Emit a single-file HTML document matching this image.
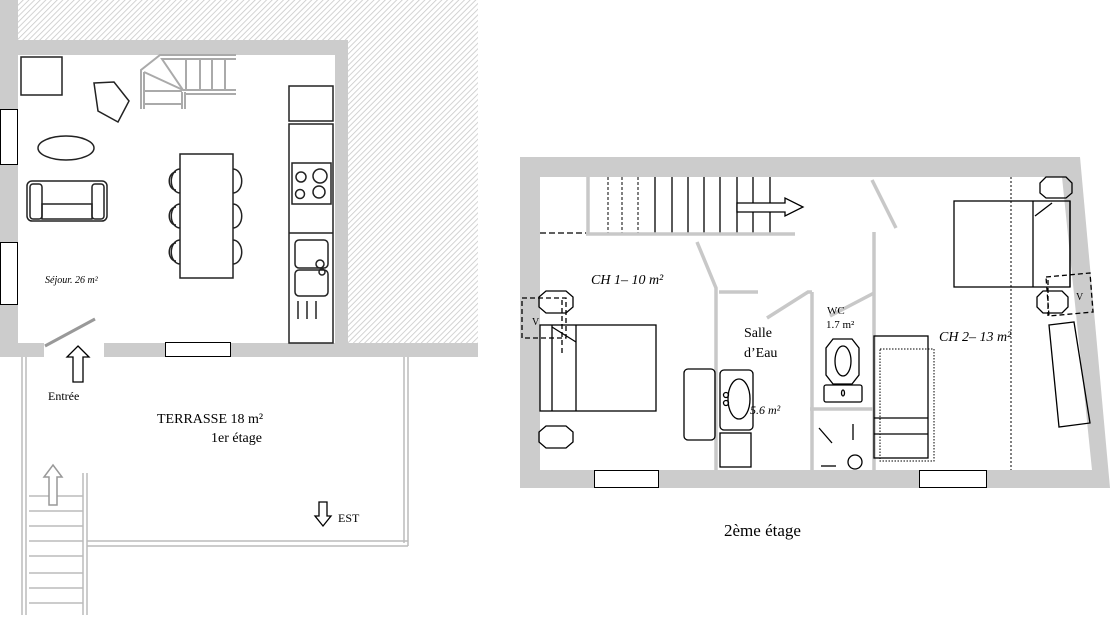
<!DOCTYPE html>
<html><head><meta charset="utf-8"><style>
html,body{margin:0;padding:0;background:#fff}
svg{display:block}
text{font-family:"Liberation Serif",serif;fill:#000}
</style></head><body>
<svg width="1110" height="618" viewBox="0 0 1110 618" xmlns="http://www.w3.org/2000/svg">
<defs>
<pattern id="h" width="4" height="4" patternUnits="userSpaceOnUse" patternTransform="rotate(45)">
<rect width="4" height="4" fill="#fff"/><line x1="0" y1="0" x2="0" y2="4" stroke="#c8c8c8" stroke-width="1.6"/>
</pattern>
</defs>
<!-- LEFT BUILDING -->
<rect x="18" y="0" width="460" height="40" fill="url(#h)"/>
<rect x="348" y="40" width="130" height="303" fill="url(#h)"/>
<rect x="0" y="0" width="18" height="357" fill="#ccc"/>
<rect x="18" y="40" width="330" height="15" fill="#ccc"/>
<rect x="335" y="40" width="13" height="303" fill="#ccc"/>
<rect x="0" y="343" width="44" height="14" fill="#ccc"/>
<rect x="104" y="343" width="374" height="14" fill="#ccc"/>
<g fill="#fff" stroke="#000" stroke-width="1">
<rect x="0.5" y="109.5" width="17" height="55"/>
<rect x="0.5" y="242.5" width="17" height="62"/>
<rect x="165.5" y="342.5" width="65" height="14"/>
</g>
<line x1="45" y1="346" x2="95" y2="319" stroke="#999" stroke-width="3"/>
<g fill="none" stroke="#222" stroke-width="1.5">
<rect x="21" y="57" width="41" height="38"/>
<polygon points="94,83 114,82 129,101 118,122 98,111"/>
<ellipse cx="66" cy="148" rx="28" ry="12"/>
<rect x="27" y="181" width="80" height="40" rx="5"/>
<rect x="30" y="184" width="12" height="35" rx="3"/>
<rect x="92" y="184" width="12" height="35" rx="3"/>
<rect x="42" y="204" width="50" height="15"/>
<rect x="180" y="154" width="53" height="124"/>
<path d="M180,169 a8,11 0 0 0 0,24 M180,204 a8,11 0 0 0 0,24 M180,240 a8,11 0 0 0 0,24"/>
<path d="M176,172 a6,8 0 0 0 0,18 M176,207 a6,8 0 0 0 0,18 M176,243 a6,8 0 0 0 0,18"/>
<path d="M233,169 a8,11 0 0 1 0,24 M233,204 a8,11 0 0 1 0,24 M233,240 a8,11 0 0 1 0,24"/>
<rect x="289" y="86" width="44" height="35"/>
<rect x="289" y="124" width="44" height="219"/>
<rect x="292" y="163" width="39" height="41"/>
<circle cx="301" cy="177" r="5"/><circle cx="320" cy="176" r="7"/>
<circle cx="300" cy="194" r="4.5"/><circle cx="319" cy="192" r="6"/>
<line x1="289" y1="233" x2="333" y2="233"/>
<rect x="295" y="240" width="33" height="28" rx="4"/>
<rect x="295" y="270" width="33" height="26" rx="4"/>
<circle cx="320" cy="264" r="4"/><circle cx="322" cy="272" r="3"/>
<line x1="298" y1="301" x2="298" y2="319"/><line x1="307" y1="301" x2="307" y2="319"/><line x1="316" y1="301" x2="316" y2="319"/>
</g>
<!-- stairs 1st floor -->
<g fill="none" stroke="#aaa" stroke-width="2">
<polyline points="236,55 160,55 141,70 141,109"/>
<line x1="144" y1="72" x2="144" y2="109"/>
<polyline points="236,59 162,59 183,90 236,90"/>
<line x1="144" y1="72" x2="183" y2="90"/>
<line x1="182" y1="92" x2="182" y2="109"/><line x1="185" y1="92" x2="185" y2="109"/>
<line x1="186" y1="94" x2="236" y2="94"/>
<line x1="144" y1="104" x2="182" y2="104"/>
<line x1="186" y1="60" x2="186" y2="90"/><line x1="200" y1="60" x2="200" y2="90"/>
<line x1="212" y1="60" x2="212" y2="90"/><line x1="225" y1="60" x2="225" y2="90"/>
<line x1="144" y1="91" x2="182" y2="91"/>
</g>
<!-- terrace -->
<g fill="none" stroke="#bbb" stroke-width="1.5">
<line x1="22" y1="357" x2="22" y2="615"/><line x1="26" y1="357" x2="26" y2="615"/>
<line x1="404" y1="357" x2="404" y2="543"/><line x1="408" y1="357" x2="408" y2="546"/>
<line x1="87" y1="541" x2="408" y2="541"/><line x1="87" y1="546" x2="408" y2="546"/>
<line x1="83" y1="473" x2="83" y2="615"/><line x1="87" y1="473" x2="87" y2="615"/>
<line x1="29" y1="496" x2="83" y2="496"/><line x1="29" y1="511" x2="83" y2="511"/>
<line x1="29" y1="526" x2="83" y2="526"/><line x1="29" y1="541" x2="83" y2="541"/>
<line x1="29" y1="556" x2="83" y2="556"/><line x1="29" y1="573" x2="83" y2="573"/>
<line x1="29" y1="588" x2="83" y2="588"/><line x1="29" y1="603" x2="83" y2="603"/>
<polygon points="53,465 62,477 57,477 57,505 49,505 49,477 44,477" fill="#fff" stroke="#999"/>
</g>
<polygon points="78,346 89,357 83,357 83,382 73,382 73,357 67,357" fill="#fff" stroke="#000" stroke-width="1.3"/>
<polygon points="323,526 331,516 327,516 327,502 319,502 319,516 315,516" fill="#fff" stroke="#000" stroke-width="1.3"/>
<text x="48" y="400" font-size="12">Entrée</text>
<text x="157" y="423" font-size="14">TERRASSE  18 m²</text>
<text x="211" y="442" font-size="14">1er étage</text>
<text x="338" y="522" font-size="12">EST</text>
<text x="45" y="283" font-size="10" font-style="italic">Séjour. 26 m²</text>

<!-- RIGHT BUILDING -->
<polygon points="520,157 1080,157 1110,488 520,488" fill="#ccc"/>
<polygon points="540,177 1062,177 1092,470 540,470" fill="#fff"/>
<g fill="#fff" stroke="#000"><rect x="594.5" y="470.5" width="64" height="17"/><rect x="919.5" y="470.5" width="67" height="17"/></g>
<g stroke="#000" stroke-width="1.3">
<line x1="655" y1="177" x2="655" y2="233"/><line x1="672" y1="177" x2="672" y2="233"/>
<line x1="688" y1="177" x2="688" y2="233"/><line x1="704" y1="177" x2="704" y2="233"/>
<line x1="720" y1="177" x2="720" y2="233"/><line x1="737" y1="177" x2="737" y2="233"/>
<line x1="753" y1="177" x2="753" y2="233"/><line x1="770" y1="177" x2="770" y2="233"/>
</g>
<g stroke="#000" stroke-width="1" stroke-dasharray="3,2">
<line x1="608" y1="177" x2="608" y2="233"/><line x1="622" y1="177" x2="622" y2="233"/><line x1="638" y1="177" x2="638" y2="233"/>
</g>
<line x1="540" y1="233" x2="586" y2="233" stroke="#000" stroke-width="1.3" stroke-dasharray="6,3"/>
<g stroke="#c8c8c8" stroke-width="3.5" fill="none">
<line x1="588" y1="177" x2="588" y2="235"/>
<line x1="586" y1="234" x2="795" y2="234"/>
<line x1="872" y1="180" x2="896" y2="228"/>
<polyline points="697,242 716,288 716,470"/>
<line x1="719" y1="292" x2="758" y2="292"/>
<polyline points="767,318 808,292 812,292"/>
<line x1="812" y1="292" x2="812" y2="470"/>
<line x1="874" y1="232" x2="874" y2="470"/>
<line x1="830" y1="316" x2="874" y2="293"/>
<line x1="810" y1="409" x2="874" y2="409"/>
</g>
<polygon points="737,203 785,203 785,198 803,207 785,216 785,212 737,212" fill="#fff" stroke="#000" stroke-width="1.3"/>
<line x1="1011" y1="177" x2="1011" y2="470" stroke="#000" stroke-dasharray="2,2"/>
<g fill="none" stroke="#000" stroke-width="1.3">
<rect x="540" y="325" width="116" height="86"/>
<line x1="552" y1="325" x2="552" y2="411"/><line x1="576" y1="325" x2="576" y2="411"/>
<line x1="552" y1="327" x2="576" y2="342"/>
<polygon points="546,291 566,291 573,297 573,307 566,313 546,313 539,307 539,297"/>
<polygon points="546,426 566,426 573,432 573,442 566,448 546,448 539,442 539,432"/>
<rect x="684" y="369" width="31" height="71" rx="4"/>
<rect x="720" y="370" width="33" height="60" rx="4"/>
<ellipse cx="739" cy="399" rx="11" ry="20"/>
<circle cx="726" cy="395" r="2.5"/><circle cx="726" cy="403" r="2.5"/>
<rect x="720" y="433" width="31" height="34"/>
<polygon points="833,339 852,339 859,348 859,375 852,384 833,384 826,375 826,348"/>
<ellipse cx="843" cy="361" rx="8" ry="15"/>
<rect x="824" y="385" width="38" height="17" rx="2"/>
<ellipse cx="843" cy="393" rx="1.5" ry="3"/>
<line x1="819" y1="428" x2="832" y2="443"/><line x1="853" y1="424" x2="853" y2="440"/>
<line x1="821" y1="466" x2="836" y2="466"/><circle cx="855" cy="462" r="7"/>
<rect x="954" y="201" width="116" height="86"/>
<line x1="1033" y1="201" x2="1033" y2="287"/><line x1="1070" y1="201" x2="1070" y2="287"/>
<line x1="1035" y1="216" x2="1052" y2="203"/>
<polygon points="1046,177 1066,177 1072,183 1072,193 1066,198 1046,198 1040,193 1040,183"/>
<polygon points="1043,291 1062,291 1068,297 1068,307 1062,313 1043,313 1037,307 1037,297"/>
<rect x="874" y="336" width="54" height="122"/>
<line x1="874" y1="418" x2="928" y2="418"/><line x1="874" y1="434" x2="928" y2="434"/>
<polygon points="1049,325 1074,322 1090,423 1059,427"/>
</g>
<rect x="880" y="349" width="54" height="112" fill="none" stroke="#000" stroke-dasharray="1.5,1.5"/>
<g fill="none" stroke="#000" stroke-width="1.3" stroke-dasharray="5,3">
<rect x="522" y="298" width="44" height="40"/>
<line x1="562" y1="300" x2="562" y2="354"/>
<polygon points="1046,277 1090,273 1093,312 1049,316"/>
<line x1="1048" y1="280" x2="1048" y2="316"/>
</g>
<text x="532" y="325" font-size="10">V</text>
<text x="1076" y="300" font-size="10">V</text>
<text x="591" y="284" font-size="14" font-style="italic">CH 1– 10 m²</text>
<text x="744" y="337" font-size="14">Salle</text>
<text x="744" y="357" font-size="14">d’Eau</text>
<text x="827" y="314" font-size="11">WC</text>
<text x="826" y="328" font-size="11">1.7 m²</text>
<text x="750" y="414" font-size="12" font-style="italic">5.6 m²</text>
<text x="939" y="341" font-size="14" font-style="italic">CH 2– 13 m²</text>
<text x="724" y="536" font-size="17">2ème étage</text>
</svg>
</body></html>
